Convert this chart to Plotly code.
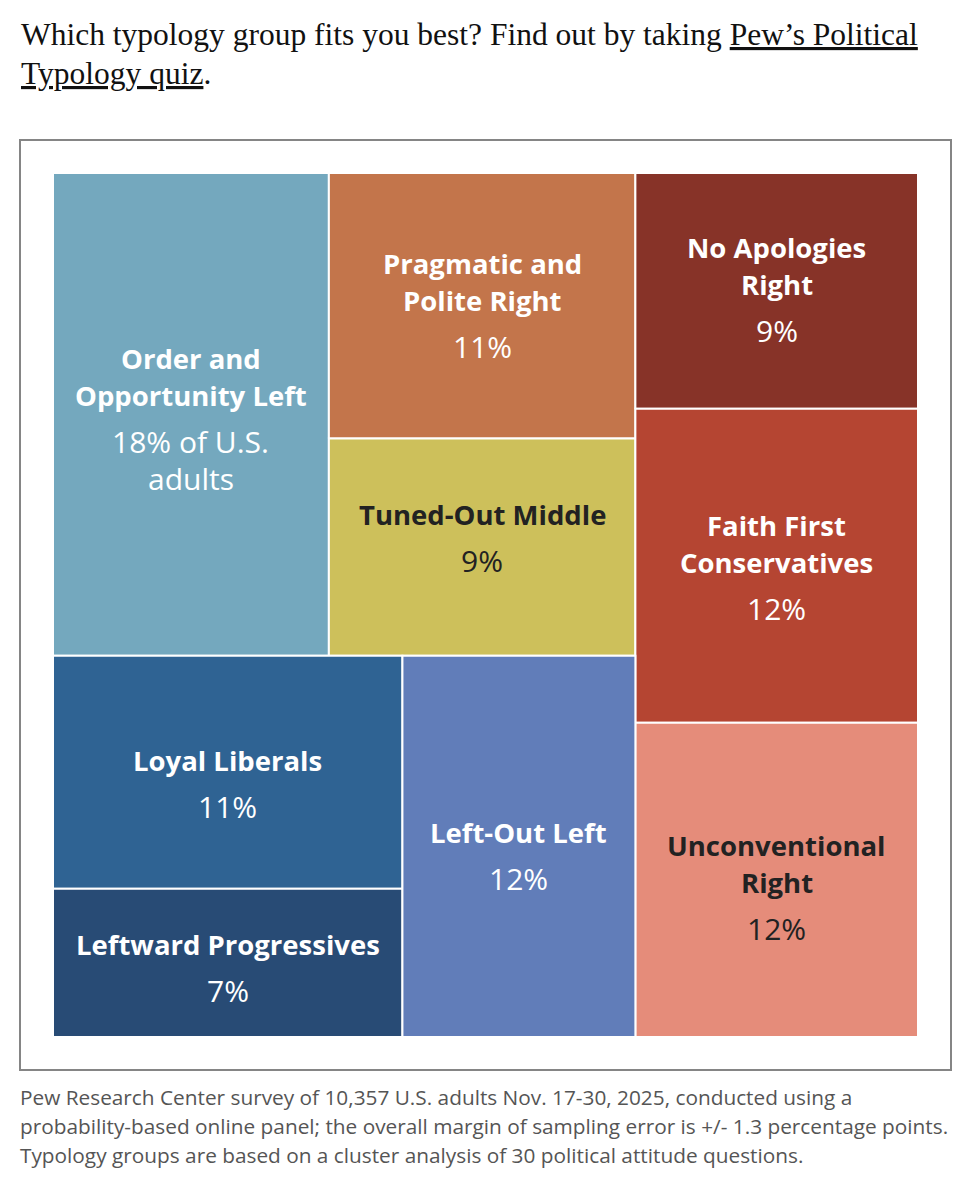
import plotly.graph_objects as go

# Pew political typology groups, share of U.S. adults (%)
groups = [
    "Order and Opportunity Left",
    "Pragmatic and Polite Right",
    "Tuned-Out Middle",
    "No Apologies Right",
    "Faith First Conservatives",
    "Unconventional Right",
    "Loyal Liberals",
    "Leftward Progressives",
    "Left-Out Left",
]
shares = [18, 11, 9, 9, 12, 12, 11, 7, 12]
label_lines = [
    ["Order and", "Opportunity Left"],
    ["Pragmatic and", "Polite Right"],
    ["Tuned-Out Middle"],
    ["No Apologies", "Right"],
    ["Faith First", "Conservatives"],
    ["Unconventional", "Right"],
    ["Loyal Liberals"],
    ["Leftward Progressives"],
    ["Left-Out Left"],
]
pct_lines = [["18% of U.S.", "adults"], ["11%"], ["9%"], ["9%"], ["12%"], ["12%"],
             ["11%"], ["7%"], ["12%"]]
colors = [
    "#74a8be", "#c3754b", "#cdc05b",
    "#873328", "#b54532", "#e58c7a",
    "#2f6393", "#284b75", "#617db9",
]
dark_text = ["Tuned-Out Middle", "Unconventional Right"]

# how the mosaic is nested: "h" = side by side, "v" = stacked top to bottom
tiling = ("h", [
    ("v", [
        ("h", ["Order and Opportunity Left",
               ("v", ["Pragmatic and Polite Right", "Tuned-Out Middle"])]),
        ("h", [("v", ["Loyal Liberals", "Leftward Progressives"]),
               "Left-Out Left"]),
    ]),
    ("v", ["No Apologies Right", "Faith First Conservatives", "Unconventional Right"]),
])

# label block placement, px below the cell centre (as laid out in the original)
text_offset = {
    "Order and Opportunity Left": 4, "Pragmatic and Polite Right": -1,
    "Tuned-Out Middle": -10, "No Apologies Right": -2,
    "Faith First Conservatives": 1, "Unconventional Right": 7,
    "Loyal Liberals": 11, "Leftward Progressives": 5, "Left-Out Left": 9,
}

share_of = dict(zip(groups, shares))


def total(node):
    if isinstance(node, str):
        return share_of[node]
    return sum(total(k) for k in node[1])


def tile(node, x0, y0, x1, y1, out):
    if isinstance(node, str):
        out[node] = (x0, y0, x1, y1)
        return
    kind, kids = node
    s = total(node)
    if kind == "h":
        x = x0
        for k in kids:
            w = (x1 - x0) * total(k) / s
            tile(k, x, y0, x + w, y1, out)
            x += w
    else:
        y = y1
        for k in kids:
            h = (y1 - y0) * total(k) / s
            tile(k, x0, y - h, x1, y, out)
            y -= h


rects = {}
tile(tiling, 0, 0, 1, 1, rects)

# page gets an 8px body margin, so the figure is shrunk to fit the window
W, H = 957, 1184
margin = dict(l=45, r=47, t=165, b=155)
plot_w = W - margin["l"] - margin["r"]
plot_h = H - margin["t"] - margin["b"]


def px_x(vx):  # window pixel -> paper x
    return (vx - 53) / plot_w


def px_y(vy):  # window pixel -> paper y
    return (1037 - vy) / plot_h


CELL_FONT = "Open Sans"
LINE = 37   # px between text lines
GAP = 9     # extra px between name and percent

fig = go.Figure()
annotations = []
for name, labs, pcts, col in zip(groups, label_lines, pct_lines, colors):
    x0, y0, x1, y1 = rects[name]
    fig.add_trace(go.Scatter(
        x=[x0, x1, x1, x0, x0], y=[y0, y0, y1, y1, y0],
        mode="lines", fill="toself", fillcolor=col,
        line=dict(color="white", width=2),
        hoverinfo="text", text=f"{name}: {share_of[name]}%",
        showlegend=False,
    ))
    tc = "#222222" if name in dark_text else "white"
    pos = [i * LINE for i in range(len(labs))]
    pos += [pos[-1] + LINE + GAP + j * LINE for j in range(len(pcts))]
    mid = (pos[0] + pos[-1]) / 2
    cx, cy = (x0 + x1) / 2, (y0 + y1) / 2
    for k, (txt, p) in enumerate(zip(labs + pcts, pos)):
        bold = k < len(labs)
        annotations.append(dict(
            x=cx, y=cy, xref="x", yref="y",
            text=f"<b>{txt}</b>" if bold else txt, showarrow=False,
            xanchor="center", yanchor="middle",
            yshift=mid - p - text_offset[name],
            font=dict(family=CELL_FONT, size=27.5 if bold else 30, color=tc),
        ))

# heading above the chart
heading = [
    "Which typology group fits you best? Find out by taking <u>Pew’s Political</u>",
    "<u>Typology quiz</u>.",
]
for i, line in enumerate(heading):
    annotations.append(dict(
        x=px_x(19), y=px_y(15 + 39 * i), xref="paper", yref="paper",
        xanchor="left", yanchor="top", align="left", showarrow=False, text=line,
        font=dict(family="Liberation Serif", size=31.5, color="#111111"),
    ))

# source note below the frame
note_lines = [
    "Pew Research Center survey of 10,357 U.S. adults Nov. 17-30, 2025, conducted using a",
    "probability-based online panel; the overall margin of sampling error is +/- 1.3 percentage points.",
    "Typology groups are based on a cluster analysis of 30 political attitude questions.",
]
for i, line in enumerate(note_lines):
    annotations.append(dict(
        x=px_x(18), y=px_y(1097 + 29 * i), xref="paper", yref="paper",
        xanchor="left", yanchor="middle", showarrow=False, text=line,
        font=dict(family="Open Sans", size=20.8, color="#555555"),
    ))

fig.update_layout(
    width=W, height=H, margin=margin,
    paper_bgcolor="white", plot_bgcolor="white",
    xaxis=dict(range=[0, 1], visible=False, fixedrange=True),
    yaxis=dict(range=[0, 1], visible=False, fixedrange=True),
    annotations=annotations,
    shapes=[dict(
        type="rect", xref="paper", yref="paper",
        x0=px_x(20), x1=px_x(951), y0=px_y(1070), y1=px_y(140),
        line=dict(color="#858585", width=2), fillcolor="rgba(0,0,0,0)", layer="below",
    )],
)

fig.write_html("out.html")
